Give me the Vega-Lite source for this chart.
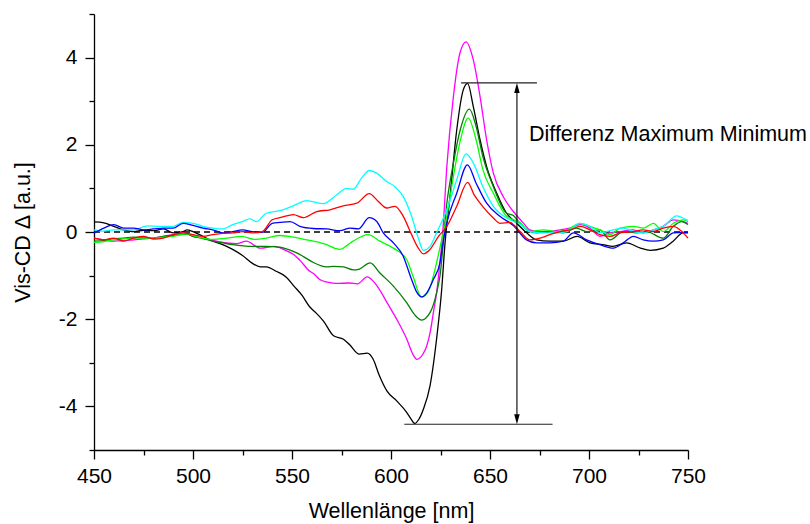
{
  "$schema": "https://vega.github.io/schema/vega-lite/v6.json",
  "width": 594,
  "height": 436,
  "autosize": "none",
  "padding": {"left": 94, "top": 14, "right": 122, "bottom": 74},
  "background": "white",
  "config": {"view": {"stroke": null}, "font": "Liberation Sans"},
  "datasets": {
    "spectra": [
      {"s":"k","w":450,"v":0.23},{"s":"k","w":455,"v":0.21},{"s":"k","w":460,"v":0.13},{"s":"k","w":465,"v":0.05},{"s":"k","w":470,"v":0.01},{"s":"k","w":475,"v":0.04},{"s":"k","w":480,"v":0.03},{"s":"k","w":485,"v":0.07},{"s":"k","w":490,"v":-0.02},{"s":"k","w":495,"v":0.01},{"s":"k","w":497,"v":0.05},{"s":"k","w":500,"v":0.01},{"s":"k","w":505,"v":-0.1},{"s":"k","w":510,"v":-0.21},{"s":"k","w":515,"v":-0.29},{"s":"k","w":520,"v":-0.4},{"s":"k","w":525,"v":-0.54},{"s":"k","w":530,"v":-0.72},{"s":"k","w":534,"v":-0.8},{"s":"k","w":537,"v":-0.8},{"s":"k","w":542,"v":-0.9},{"s":"k","w":547,"v":-1.03},{"s":"k","w":551,"v":-1.24},{"s":"k","w":555,"v":-1.45},{"s":"k","w":559,"v":-1.72},{"s":"k","w":562,"v":-1.85},{"s":"k","w":566,"v":-2.05},{"s":"k","w":571,"v":-2.38},{"s":"k","w":576,"v":-2.46},{"s":"k","w":579,"v":-2.58},{"s":"k","w":584,"v":-2.8},{"s":"k","w":588,"v":-2.78},{"s":"k","w":591,"v":-2.92},{"s":"k","w":594,"v":-3.28},{"s":"k","w":598,"v":-3.65},{"s":"k","w":603,"v":-3.88},{"s":"k","w":608,"v":-4.14},{"s":"k","w":610,"v":-4.28},{"s":"k","w":612,"v":-4.39},{"s":"k","w":614,"v":-4.3},{"s":"k","w":616.3,"v":-4.07},{"s":"k","w":619.7,"v":-3.53},{"s":"k","w":623,"v":-2.46},{"s":"k","w":625.6,"v":-1.32},{"s":"k","w":627.3,"v":-0.25},{"s":"k","w":629.8,"v":0.81},{"s":"k","w":633.2,"v":2.34},{"s":"k","w":636.5,"v":3.26},{"s":"k","w":638.7,"v":3.41},{"s":"k","w":641.6,"v":2.87},{"s":"k","w":645,"v":2.11},{"s":"k","w":648.3,"v":1.5},{"s":"k","w":653.4,"v":0.89},{"s":"k","w":658.4,"v":0.43},{"s":"k","w":663.5,"v":0.2},{"s":"k","w":668.5,"v":-0.02},{"s":"k","w":673.5,"v":-0.18},{"s":"k","w":680,"v":-0.21},{"s":"k","w":687,"v":-0.21},{"s":"k","w":694,"v":-0.1},{"s":"k","w":700.5,"v":-0.25},{"s":"k","w":707,"v":-0.29},{"s":"k","w":712,"v":-0.33},{"s":"k","w":719,"v":-0.25},{"s":"k","w":726,"v":-0.37},{"s":"k","w":731,"v":-0.42},{"s":"k","w":737.5,"v":-0.37},{"s":"k","w":742.5,"v":-0.21},{"s":"k","w":747.5,"v":-0.02},{"s":"k","w":750,"v":-0.02},

      {"s":"m","w":450,"v":-0.14},{"s":"m","w":455,"v":-0.18},{"s":"m","w":460,"v":-0.21},{"s":"m","w":465,"v":-0.2},{"s":"m","w":470,"v":-0.18},{"s":"m","w":475,"v":-0.16},{"s":"m","w":480,"v":-0.14},{"s":"m","w":485,"v":-0.1},{"s":"m","w":490,"v":-0.06},{"s":"m","w":495,"v":-0.02},{"s":"m","w":500,"v":-0.1},{"s":"m","w":505,"v":-0.14},{"s":"m","w":510,"v":-0.19},{"s":"m","w":517,"v":-0.25},{"s":"m","w":522,"v":-0.27},{"s":"m","w":527,"v":-0.21},{"s":"m","w":534,"v":-0.37},{"s":"m","w":541,"v":-0.33},{"s":"m","w":547.6,"v":-0.44},{"s":"m","w":551,"v":-0.52},{"s":"m","w":554,"v":-0.65},{"s":"m","w":559,"v":-0.9},{"s":"m","w":561,"v":-0.96},{"s":"m","w":564,"v":-1.09},{"s":"m","w":568,"v":-1.15},{"s":"m","w":572.5,"v":-1.18},{"s":"m","w":579,"v":-1.17},{"s":"m","w":583,"v":-1.19},{"s":"m","w":588,"v":-1.03},{"s":"m","w":593,"v":-1.24},{"s":"m","w":598,"v":-1.62},{"s":"m","w":603,"v":-2.01},{"s":"m","w":608,"v":-2.46},{"s":"m","w":611,"v":-2.8},{"s":"m","w":613,"v":-2.92},{"s":"m","w":616,"v":-2.81},{"s":"m","w":618,"v":-2.62},{"s":"m","w":620,"v":-2.25},{"s":"m","w":621.4,"v":-1.85},{"s":"m","w":623,"v":-1.4},{"s":"m","w":624.7,"v":-0.71},{"s":"m","w":626.3,"v":0.1},{"s":"m","w":628.2,"v":1.5},{"s":"m","w":631.5,"v":3.1},{"s":"m","w":634.8,"v":4.1},{"s":"m","w":637.9,"v":4.36},{"s":"m","w":641.6,"v":3.94},{"s":"m","w":645,"v":3.1},{"s":"m","w":648.3,"v":2.11},{"s":"m","w":651.7,"v":1.35},{"s":"m","w":656.7,"v":0.81},{"s":"m","w":661.8,"v":0.47},{"s":"m","w":666.8,"v":0.21},{"s":"m","w":670,"v":0.05},{"s":"m","w":675,"v":0.01},{"s":"m","w":680,"v":0.01},{"s":"m","w":685.4,"v":0.05},{"s":"m","w":690.4,"v":0.09},{"s":"m","w":695.5,"v":0.17},{"s":"m","w":700.5,"v":0.09},{"s":"m","w":705.5,"v":-0.1},{"s":"m","w":710.6,"v":-0.02},{"s":"m","w":715.7,"v":0.01},{"s":"m","w":722.4,"v":0.05},{"s":"m","w":727.4,"v":-0.02},{"s":"m","w":732.5,"v":0.05},{"s":"m","w":737.5,"v":0.13},{"s":"m","w":742.6,"v":0.28},{"s":"m","w":747.6,"v":0.24},{"s":"m","w":750,"v":0.2},

      {"s":"g","w":450,"v":-0.21},{"s":"g","w":455,"v":-0.2},{"s":"g","w":460,"v":-0.15},{"s":"g","w":465,"v":-0.14},{"s":"g","w":470,"v":-0.12},{"s":"g","w":475,"v":-0.13},{"s":"g","w":480,"v":-0.14},{"s":"g","w":485,"v":-0.1},{"s":"g","w":490,"v":-0.08},{"s":"g","w":497,"v":-0.05},{"s":"g","w":500,"v":-0.1},{"s":"g","w":505,"v":-0.15},{"s":"g","w":510,"v":-0.21},{"s":"g","w":515,"v":-0.25},{"s":"g","w":520,"v":-0.29},{"s":"g","w":530,"v":-0.33},{"s":"g","w":537,"v":-0.33},{"s":"g","w":544,"v":-0.35},{"s":"g","w":548,"v":-0.4},{"s":"g","w":552.4,"v":-0.48},{"s":"g","w":556,"v":-0.57},{"s":"g","w":560.8,"v":-0.7},{"s":"g","w":567.5,"v":-0.8},{"s":"g","w":571,"v":-0.79},{"s":"g","w":576,"v":-0.8},{"s":"g","w":581,"v":-0.87},{"s":"g","w":584,"v":-0.85},{"s":"g","w":589.5,"v":-0.71},{"s":"g","w":594.4,"v":-0.94},{"s":"g","w":601.2,"v":-1.24},{"s":"g","w":607.9,"v":-1.62},{"s":"g","w":612,"v":-1.9},{"s":"g","w":615.4,"v":-2.02},{"s":"g","w":619.7,"v":-1.85},{"s":"g","w":623,"v":-1.4},{"s":"g","w":624.7,"v":-1.02},{"s":"g","w":628.2,"v":0.66},{"s":"g","w":631.5,"v":1.58},{"s":"g","w":635,"v":2.35},{"s":"g","w":639.6,"v":2.82},{"s":"g","w":643,"v":2.42},{"s":"g","w":646.4,"v":1.73},{"s":"g","w":651.7,"v":1.04},{"s":"g","w":658.4,"v":0.43},{"s":"g","w":661.8,"v":0.38},{"s":"g","w":665,"v":0.2},{"s":"g","w":668.5,"v":0.05},{"s":"g","w":673.5,"v":-0.02},{"s":"g","w":680.3,"v":0.01},{"s":"g","w":687,"v":-0.02},{"s":"g","w":693.7,"v":0.09},{"s":"g","w":698.8,"v":0.01},{"s":"g","w":705.5,"v":0.05},{"s":"g","w":710.6,"v":-0.18},{"s":"g","w":717.3,"v":0.01},{"s":"g","w":724.1,"v":-0.02},{"s":"g","w":729.1,"v":0.01},{"s":"g","w":737.5,"v":-0.14},{"s":"g","w":742.6,"v":0.13},{"s":"g","w":746.8,"v":0.24},{"s":"g","w":750,"v":0.17},

      {"s":"G","w":450,"v":-0.24},{"s":"G","w":455,"v":-0.22},{"s":"G","w":460,"v":-0.18},{"s":"G","w":465,"v":-0.16},{"s":"G","w":470,"v":-0.14},{"s":"G","w":475,"v":-0.14},{"s":"G","w":480,"v":-0.14},{"s":"G","w":485,"v":-0.12},{"s":"G","w":490,"v":-0.1},{"s":"G","w":497,"v":-0.04},{"s":"G","w":500,"v":-0.08},{"s":"G","w":505,"v":-0.14},{"s":"G","w":510,"v":-0.17},{"s":"G","w":517,"v":-0.14},{"s":"G","w":524.7,"v":-0.1},{"s":"G","w":531,"v":-0.17},{"s":"G","w":537,"v":-0.14},{"s":"G","w":544,"v":-0.08},{"s":"G","w":551,"v":-0.12},{"s":"G","w":556,"v":-0.17},{"s":"G","w":560.8,"v":-0.21},{"s":"G","w":567.5,"v":-0.29},{"s":"G","w":572,"v":-0.38},{"s":"G","w":574.2,"v":-0.4},{"s":"G","w":578,"v":-0.3},{"s":"G","w":580.9,"v":-0.21},{"s":"G","w":588.5,"v":-0.06},{"s":"G","w":594.4,"v":-0.21},{"s":"G","w":601.2,"v":-0.37},{"s":"G","w":607.9,"v":-0.63},{"s":"G","w":611,"v":-1.0},{"s":"G","w":615.4,"v":-1.49},{"s":"G","w":619,"v":-1.35},{"s":"G","w":622,"v":-0.9},{"s":"G","w":625,"v":-0.3},{"s":"G","w":628.2,"v":0.36},{"s":"G","w":631.5,"v":1.27},{"s":"G","w":635,"v":2.1},{"s":"G","w":639,"v":2.61},{"s":"G","w":643,"v":2.11},{"s":"G","w":646.4,"v":1.43},{"s":"G","w":651.7,"v":0.89},{"s":"G","w":658.4,"v":0.36},{"s":"G","w":665.2,"v":0.22},{"s":"G","w":670.2,"v":0.01},{"s":"G","w":677,"v":0.05},{"s":"G","w":683.7,"v":0.01},{"s":"G","w":688.8,"v":0.05},{"s":"G","w":695.5,"v":0.2},{"s":"G","w":700.5,"v":0.13},{"s":"G","w":705.5,"v":0.05},{"s":"G","w":710.6,"v":-0.06},{"s":"G","w":715.7,"v":0.09},{"s":"G","w":722.4,"v":0.13},{"s":"G","w":727.4,"v":0.09},{"s":"G","w":732.5,"v":0.2},{"s":"G","w":737.5,"v":0.01},{"s":"G","w":742.6,"v":0.2},{"s":"G","w":747.6,"v":0.28},{"s":"G","w":750,"v":0.24},

      {"s":"c","w":450,"v":0.05},{"s":"c","w":455,"v":0.02},{"s":"c","w":460,"v":0.05},{"s":"c","w":465,"v":0.05},{"s":"c","w":470,"v":0.05},{"s":"c","w":477,"v":0.14},{"s":"c","w":483.7,"v":0.13},{"s":"c","w":490,"v":0.13},{"s":"c","w":495,"v":0.22},{"s":"c","w":500,"v":0.2},{"s":"c","w":505,"v":0.13},{"s":"c","w":510,"v":0.09},{"s":"c","w":515,"v":0.07},{"s":"c","w":520,"v":0.17},{"s":"c","w":525,"v":0.24},{"s":"c","w":528.7,"v":0.3},{"s":"c","w":532,"v":0.24},{"s":"c","w":537,"v":0.43},{"s":"c","w":544,"v":0.49},{"s":"c","w":550.7,"v":0.6},{"s":"c","w":557.4,"v":0.72},{"s":"c","w":565.8,"v":0.65},{"s":"c","w":572.5,"v":0.85},{"s":"c","w":577.6,"v":1.0},{"s":"c","w":580.9,"v":0.98},{"s":"c","w":585.2,"v":1.24},{"s":"c","w":589,"v":1.41},{"s":"c","w":592.8,"v":1.35},{"s":"c","w":597.8,"v":1.16},{"s":"c","w":602,"v":1.04},{"s":"c","w":606.2,"v":0.81},{"s":"c","w":610.4,"v":0.36},{"s":"c","w":613.8,"v":-0.14},{"s":"c","w":616.3,"v":-0.42},{"s":"c","w":619.7,"v":-0.33},{"s":"c","w":623,"v":-0.02},{"s":"c","w":628.2,"v":0.51},{"s":"c","w":633.2,"v":1.2},{"s":"c","w":637.9,"v":1.79},{"s":"c","w":641.6,"v":1.58},{"s":"c","w":646.4,"v":1.04},{"s":"c","w":651.7,"v":0.59},{"s":"c","w":658.4,"v":0.32},{"s":"c","w":665.2,"v":0.18},{"s":"c","w":670.2,"v":0.01},{"s":"c","w":677,"v":-0.02},{"s":"c","w":683.7,"v":-0.02},{"s":"c","w":688.8,"v":0.01},{"s":"c","w":695.5,"v":0.2},{"s":"c","w":700.5,"v":0.13},{"s":"c","w":705.5,"v":-0.02},{"s":"c","w":712.3,"v":0.05},{"s":"c","w":717.3,"v":0.09},{"s":"c","w":722.4,"v":0.01},{"s":"c","w":727.4,"v":-0.02},{"s":"c","w":732.5,"v":0.05},{"s":"c","w":737.5,"v":0.13},{"s":"c","w":744.3,"v":0.37},{"s":"c","w":749.3,"v":0.28},{"s":"c","w":750,"v":0.27},

      {"s":"b","w":450,"v":-0.02},{"s":"b","w":455,"v":0.09},{"s":"b","w":460,"v":0.17},{"s":"b","w":465,"v":0.09},{"s":"b","w":470,"v":0.09},{"s":"b","w":475,"v":0.05},{"s":"b","w":480,"v":0.07},{"s":"b","w":485,"v":0.09},{"s":"b","w":490,"v":0.09},{"s":"b","w":495,"v":0.2},{"s":"b","w":500,"v":0.15},{"s":"b","w":505,"v":0.09},{"s":"b","w":510,"v":0.05},{"s":"b","w":515,"v":-0.02},{"s":"b","w":520,"v":0.01},{"s":"b","w":525,"v":0.05},{"s":"b","w":530,"v":0.01},{"s":"b","w":535,"v":-0.01},{"s":"b","w":540,"v":0.2},{"s":"b","w":544,"v":0.22},{"s":"b","w":549,"v":0.24},{"s":"b","w":554,"v":0.13},{"s":"b","w":560.8,"v":0.08},{"s":"b","w":567.5,"v":0.07},{"s":"b","w":574.2,"v":0.03},{"s":"b","w":579.3,"v":0.09},{"s":"b","w":583.5,"v":0.07},{"s":"b","w":589,"v":0.33},{"s":"b","w":592.8,"v":0.24},{"s":"b","w":596.1,"v":-0.02},{"s":"b","w":601.2,"v":-0.25},{"s":"b","w":606.2,"v":-0.56},{"s":"b","w":610.4,"v":-1.09},{"s":"b","w":613,"v":-1.38},{"s":"b","w":615.4,"v":-1.49},{"s":"b","w":618,"v":-1.4},{"s":"b","w":621.4,"v":-1.09},{"s":"b","w":624.7,"v":-0.71},{"s":"b","w":626.3,"v":-0.25},{"s":"b","w":628.2,"v":0.21},{"s":"b","w":633.2,"v":0.89},{"s":"b","w":638.6,"v":1.54},{"s":"b","w":643,"v":1.12},{"s":"b","w":648.3,"v":0.66},{"s":"b","w":655,"v":0.36},{"s":"b","w":661.8,"v":0.15},{"s":"b","w":668.5,"v":-0.18},{"s":"b","w":673.5,"v":-0.25},{"s":"b","w":680.3,"v":-0.25},{"s":"b","w":687,"v":-0.21},{"s":"b","w":692.1,"v":-0.02},{"s":"b","w":698.8,"v":-0.18},{"s":"b","w":705.5,"v":-0.29},{"s":"b","w":712.3,"v":-0.37},{"s":"b","w":717.3,"v":-0.25},{"s":"b","w":722.4,"v":-0.1},{"s":"b","w":727.4,"v":-0.18},{"s":"b","w":732.5,"v":-0.21},{"s":"b","w":737.5,"v":-0.18},{"s":"b","w":742.6,"v":-0.02},{"s":"b","w":747.6,"v":-0.01},{"s":"b","w":750,"v":-0.01},

      {"s":"r","w":450,"v":-0.14},{"s":"r","w":455,"v":-0.18},{"s":"r","w":460,"v":-0.14},{"s":"r","w":465,"v":-0.21},{"s":"r","w":470,"v":-0.14},{"s":"r","w":475,"v":-0.1},{"s":"r","w":480,"v":-0.16},{"s":"r","w":485,"v":-0.14},{"s":"r","w":490,"v":-0.06},{"s":"r","w":495,"v":-0.02},{"s":"r","w":500,"v":-0.06},{"s":"r","w":505,"v":-0.1},{"s":"r","w":510,"v":-0.06},{"s":"r","w":515,"v":-0.03},{"s":"r","w":520,"v":-0.02},{"s":"r","w":525,"v":0.01},{"s":"r","w":530,"v":-0.02},{"s":"r","w":535,"v":0.01},{"s":"r","w":540,"v":0.28},{"s":"r","w":545,"v":0.34},{"s":"r","w":550.7,"v":0.4},{"s":"r","w":555.7,"v":0.33},{"s":"r","w":562.5,"v":0.47},{"s":"r","w":569.2,"v":0.51},{"s":"r","w":575.9,"v":0.6},{"s":"r","w":582.7,"v":0.66},{"s":"r","w":589,"v":0.88},{"s":"r","w":593.6,"v":0.7},{"s":"r","w":597.8,"v":0.55},{"s":"r","w":602,"v":0.59},{"s":"r","w":606.2,"v":0.36},{"s":"r","w":610.4,"v":-0.06},{"s":"r","w":613.8,"v":-0.37},{"s":"r","w":616.3,"v":-0.5},{"s":"r","w":619.7,"v":-0.4},{"s":"r","w":624,"v":-0.1},{"s":"r","w":628.2,"v":0.13},{"s":"r","w":633.2,"v":0.59},{"s":"r","w":638.7,"v":1.14},{"s":"r","w":642,"v":0.85},{"s":"r","w":645,"v":0.66},{"s":"r","w":651.7,"v":0.32},{"s":"r","w":655,"v":0.2},{"s":"r","w":660,"v":0.22},{"s":"r","w":665.2,"v":0.01},{"s":"r","w":670.2,"v":-0.18},{"s":"r","w":675.3,"v":-0.14},{"s":"r","w":680.3,"v":-0.06},{"s":"r","w":685.4,"v":0.01},{"s":"r","w":690.4,"v":0.05},{"s":"r","w":695.5,"v":0.13},{"s":"r","w":700.5,"v":0.05},{"s":"r","w":705.5,"v":-0.06},{"s":"r","w":710.6,"v":-0.1},{"s":"r","w":715.7,"v":-0.02},{"s":"r","w":722.4,"v":0.01},{"s":"r","w":727.4,"v":0.05},{"s":"r","w":732.5,"v":0.01},{"s":"r","w":737.5,"v":0.09},{"s":"r","w":742.6,"v":0.13},{"s":"r","w":747.6,"v":-0.02},{"s":"r","w":750,"v":-0.14}
    ]
  },
  "encoding": {
    "x": {
      "field": "w", "type": "quantitative",
      "scale": {"domain": [450, 750], "nice": false, "zero": false},
      "axis": {
        "title": "Wellenlänge [nm]",
        "values": [450, 475, 500, 525, 550, 575, 600, 625, 650, 675, 700, 725, 750],
        "labelExpr": "datum.value % 50 == 0 ? '' + datum.value : ''",
        "tickSize": {"condition": {"test": "datum.value % 50 == 0", "value": 9}, "value": 5},
        "grid": false,
        "domainColor": "black", "domainWidth": 1.3,
        "tickColor": "black", "tickWidth": 1.3,
        "labelColor": "black", "labelFont": "Liberation Sans", "labelFontSize": 21,
        "labelPadding": 6, "labelOverlap": false, "labelFlush": false,
        "titleColor": "black", "titleFont": "Liberation Sans", "titleFontSize": 21.5, "titleFontWeight": "normal",
        "titleBaseline": "alphabetic", "titleY": 67
      }
    },
    "y": {
      "field": "v", "type": "quantitative",
      "scale": {"domain": [-5, 5], "nice": false},
      "axis": {
        "title": "Vis-CD Δ [a.u.]",
        "values": [-5, -4, -3, -2, -1, 0, 1, 2, 3, 4, 5],
        "labelExpr": "datum.value % 2 == 0 ? '' + datum.value : ''",
        "tickSize": {"condition": {"test": "datum.value % 2 == 0", "value": 9}, "value": 5},
        "grid": false,
        "domainColor": "black", "domainWidth": 1.3,
        "tickColor": "black", "tickWidth": 1.3,
        "labelColor": "black", "labelFont": "Liberation Sans", "labelFontSize": 21,
        "labelPadding": 8, "labelOverlap": false, "labelFlush": false,
        "titleColor": "black", "titleFont": "Liberation Sans", "titleFontSize": 21.5, "titleFontWeight": "normal",
        "titleBaseline": "alphabetic", "titleAngle": -90, "titleX": -65, "titleY": 218
      }
    }
  },
  "layer": [
    {
      "data": {"values": [{"w": 450, "w2": 750, "v": 0}]},
      "mark": {"type": "rule", "color": "black", "strokeWidth": 1.4, "strokeDash": [6, 4]},
      "encoding": {"x2": {"field": "w2"}}
    },
    {
      "data": {"name": "spectra"},
      "mark": {"type": "line", "interpolate": "monotone", "strokeWidth": 1.3},
      "encoding": {
        "color": {
          "field": "s", "type": "nominal", "legend": null,
          "scale": {"domain": ["k", "m", "g", "G", "c", "b", "r"],
                    "range": ["#000000", "#ff00ff", "#008000", "#00ff00", "#00ffff", "#0000ff", "#ff0000"]}
        }
      }
    },
    {
      "data": {"values": [{"w": 635.4, "w2": 673.7, "v": 3.42}, {"w": 606.7, "w2": 681.6, "v": -4.41}]},
      "mark": {"type": "rule", "color": "#222222", "strokeWidth": 1.1},
      "encoding": {"x2": {"field": "w2"}}
    },
    {
      "data": {"values": [{"w": 663.6, "v": 3.2, "v2": -4.2}]},
      "mark": {"type": "rule", "color": "black", "strokeWidth": 1.1},
      "encoding": {"y2": {"field": "v2"}}
    },
    {
      "data": {"values": [{"w": 663.6, "v": 3.42, "dir": "up"}, {"w": 663.6, "v": -4.41, "dir": "down"}]},
      "mark": {"type": "point", "filled": true, "size": 100, "color": "black", "opacity": 1, "strokeWidth": 0},
      "encoding": {
        "shape": {
          "field": "dir", "type": "nominal", "legend": null,
          "scale": {"domain": ["up", "down"], "range": ["M0,0L0.55,2L-0.55,2Z", "M0,0L0.55,-2L-0.55,-2Z"]}
        }
      }
    },
    {
      "data": {"values": [{"w": 669.7, "v": 2.23, "label": "Differenz Maximum Minimum"}]},
      "mark": {"type": "text", "align": "left", "baseline": "middle", "font": "Liberation Sans", "fontSize": 21.5, "color": "black"},
      "encoding": {"text": {"field": "label"}}
    }
  ]
}
